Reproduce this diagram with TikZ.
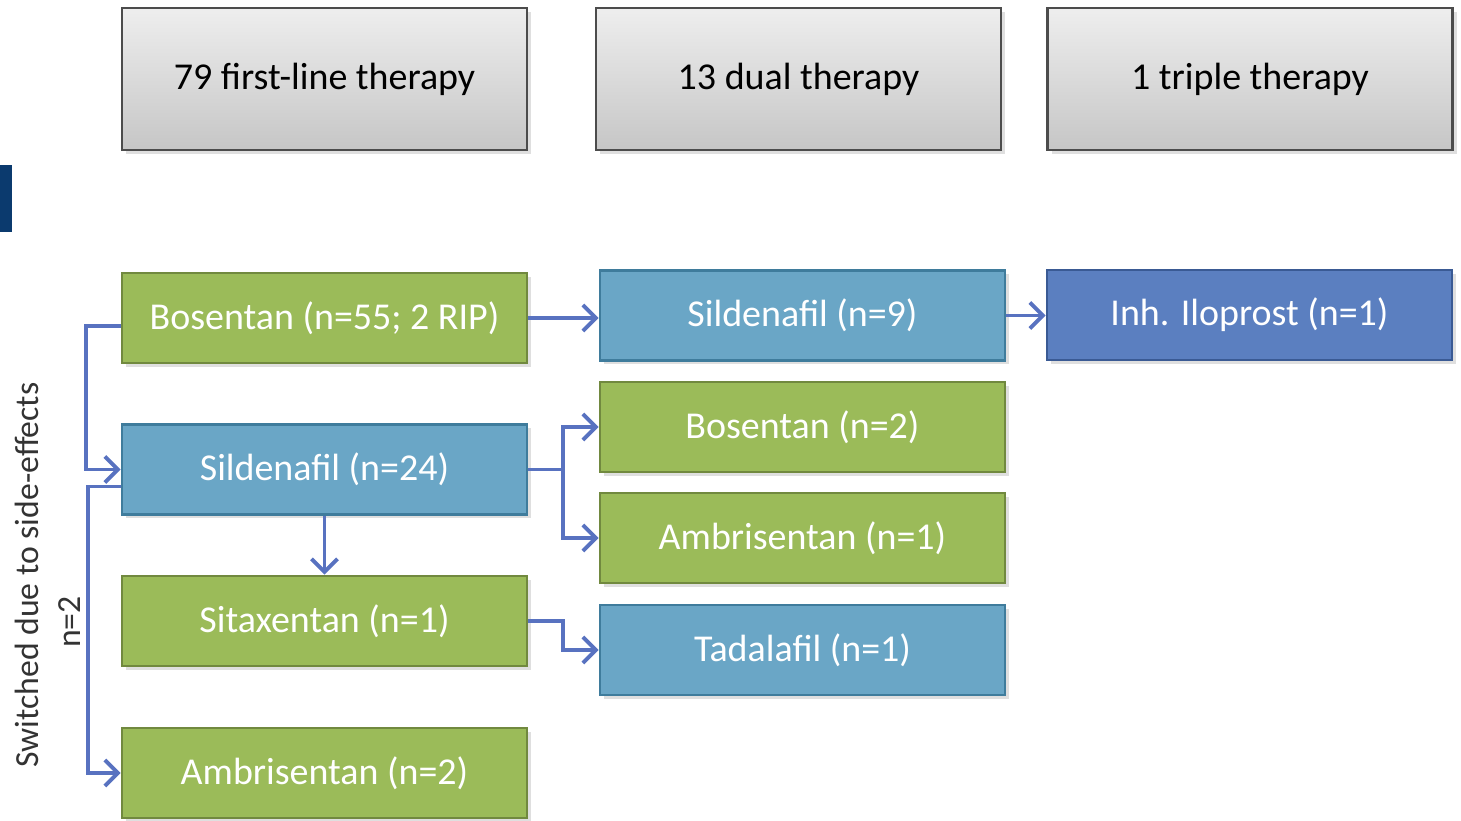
\documentclass[tikz,border=0pt]{standalone}
\usepackage{fontspec}
\setmainfont{Carlito}
\usetikzlibrary{shadows,arrows.meta}

\definecolor{hdrtop}{HTML}{EEEEEE}
\definecolor{hdrbot}{HTML}{C6C6C6}
\definecolor{drgreen}{HTML}{9BBB59}
\definecolor{drgreenline}{HTML}{71893F}
\definecolor{draqua}{HTML}{6AA6C6}
\definecolor{draqualine}{HTML}{3F7C9C}
\definecolor{drblue}{HTML}{5B7FC0}
\definecolor{drblueline}{HTML}{3A5A94}
\definecolor{arrowblue}{HTML}{5872C0}
\definecolor{barblue}{HTML}{0B3A6E}

\begin{document}
\begin{tikzpicture}[
  font=\fontsize{10.8}{13}\selectfont,
  box/.style={rectangle, minimum width=4.05cm, minimum height=0.9cm, line width=0.8pt,
    drop shadow={shadow xshift=0.04cm, shadow yshift=-0.04cm, opacity=0.25}},
  header/.style={box, minimum height=1.42cm, draw=black!70, top color=hdrtop, bottom color=hdrbot, text=black},
  green/.style={box, draw=drgreenline, fill=drgreen, text=white},
  aqua/.style={box, draw=draqualine, fill=draqua, text=white},
  dblue/.style={box, draw=drblueline, fill=drblue, text=white},
  side/.style={rotate=90, text=black!80, font=\fontsize{9.6}{11}\selectfont},
  arr/.style={draw=arrowblue, line width=1.1pt, -{Straight Barb[length=1.3mm, width=2.6mm]}},
  ln/.style={draw=arrowblue, line width=1.1pt}
]
\useasboundingbox (0,0) rectangle (14.61,-8.21);

\fill[barblue] (0,-1.65) rectangle (0.12,-2.32);

\node[name=h1, header] at (3.245,-0.79) {79 first-line therapy};
\node[name=h2, header] at (7.985,-0.79) {13 dual therapy};
\node[name=h3, header] at (12.50,-0.79) {1 triple therapy};

\node[name=bos55, green] at (3.245,-3.18) {Bosentan (n=55; 2 RIP)};
\node[name=sil24, aqua] at (3.245,-4.695) {Sildenafil (n=24)};
\node[name=sitax, green] at (3.245,-6.21) {Sitaxentan (n=1)};
\node[name=amb2, green] at (3.245,-7.73) {Ambrisentan (n=2)};

\node[name=sil9, aqua] at (8.025,-3.155) {Sildenafil (n=9)};
\node[name=bos2, green] at (8.025,-4.27) {Bosentan (n=2)};
\node[name=amb1, green] at (8.025,-5.38) {Ambrisentan (n=1)};
\node[name=tada, aqua] at (8.025,-6.50) {Tadalafil (n=1)};

\node[name=ilo, dblue] at (12.495,-3.15) {Inh. Iloprost (n=1)};

\node[name=sw, side] at (0.27,-5.75) {Switched due to side-effects};
\node[name=n2, side] at (0.70,-6.22) {n=2};

\draw[arr] (bos55.east) -- (bos55.east -| sil9.west);
\draw[arr] (sil9.east) -- (sil9.east -| ilo.west);
\draw[ln] (sil24.east) -- ++(0.35,0) coordinate (split);
\draw[arr] (split) |- (bos2.west);
\draw[arr] (split) |- (amb1.west);
\draw[arr] (sitax.east) -- ++(0.35,0) |- (tada.west);
\draw[arr] (sil24.south) -- (sitax.north);
\draw[arr] ([yshift=-0.08cm]bos55.west) -- ++(-0.35,0) |- (sil24.west);
\draw[arr] ([yshift=-0.17cm]sil24.west) -- ++(-0.33,0) |- (amb2.west);
\end{tikzpicture}
\end{document}
